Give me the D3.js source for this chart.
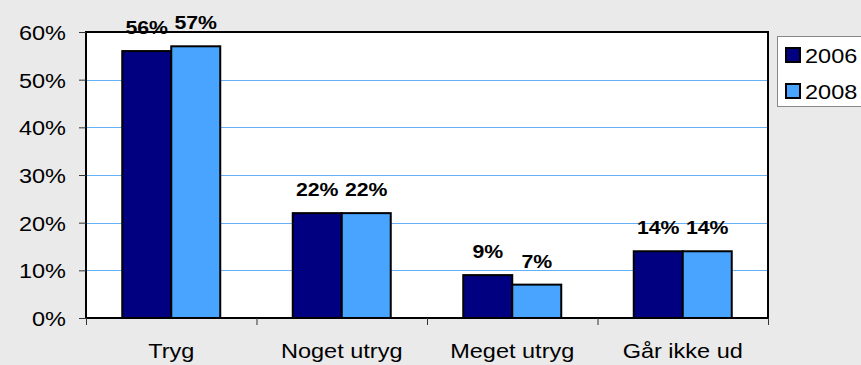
<!DOCTYPE html>
<html>
<head>
<meta charset="utf-8">
<script src="https://cdn.jsdelivr.net/npm/d3@7"></script>
<style>
  html, body { margin: 0; padding: 0; background: #eaeaea; }
  svg { display: block; font-family: Arial, "Liberation Sans", sans-serif; }
</style>
</head>
<body>
<svg id="chart" width="861" height="365"></svg>
<script>
// Answer categories and shares per survey year
const categories = ["Tryg", "Noget utryg", "Meget utryg", "Går ikke ud"];
const seriesNames = ["2006", "2008"];
const values2006 = [56, 22, 9, 14];
const values2008 = [57, 22, 7, 14];
const yTicks = [0, 10, 20, 30, 40, 50, 60];

const seriesColors = ["#000080", "#48a4ff"];
const series = [values2006, values2008];

const plot = { left: 86, right: 768, top: 32, bottom: 318 };
const stretch = 1.12; // slightly wide glyphs

const svg = d3.select("#chart");

const x = d3.scaleBand()
  .domain(categories)
  .range([plot.left, plot.right])
  .paddingInner(0)
  .paddingOuter(0);

const xInner = d3.scaleBand()
  .domain(seriesNames)
  .range([0, x.bandwidth()])
  .paddingInner(0)
  .paddingOuter(0.74);

const y = d3.scaleLinear()
  .domain([0, 60])
  .range([plot.bottom, plot.top]);

// place a horizontally stretched text at (px, py)
function wideText(sel, px, py) {
  return sel.attr("x", 0).attr("y", 0)
    .attr("transform", (d, i) => `translate(${px(d, i)},${py(d, i)}) scale(${stretch},1)`);
}

// Plot area background
svg.append("rect")
  .attr("x", plot.left).attr("y", plot.top)
  .attr("width", plot.right - plot.left)
  .attr("height", plot.bottom - plot.top)
  .attr("fill", "#ffffff");

// Gridlines
svg.append("g")
  .selectAll("line")
  .data(yTicks.filter(d => d > 0 && d < 60))
  .join("line")
  .attr("x1", plot.left).attr("x2", plot.right)
  .attr("y1", d => Math.round(y(d)) + 0.5)
  .attr("y2", d => Math.round(y(d)) + 0.5)
  .attr("stroke", "#66b0f5")
  .attr("stroke-width", 1);

// Bars
const groups = svg.append("g")
  .selectAll("g")
  .data(categories)
  .join("g")
  .attr("transform", d => `translate(${x(d)},0)`);

const cellData = (c, i) => series.map((s, k) => ({ key: seriesNames[k], value: s[i], k }));

groups.selectAll("rect")
  .data(cellData)
  .join("rect")
  .attr("x", d => xInner(d.key))
  .attr("y", d => y(d.value))
  .attr("width", xInner.bandwidth())
  .attr("height", d => plot.bottom - y(d.value))
  .attr("fill", d => seriesColors[d.k])
  .attr("stroke", "#000")
  .attr("stroke-width", 2);

// Value labels
groups.selectAll("text")
  .data(cellData)
  .join("text")
  .call(wideText, d => xInner(d.key) + xInner.bandwidth() / 2, d => y(d.value) - 17)
  .attr("text-anchor", "middle")
  .attr("font-size", 19)
  .attr("font-weight", "bold")
  .attr("fill", "#000")
  .text(d => d.value + "%");

// Plot border
svg.append("rect")
  .attr("x", plot.left).attr("y", plot.top)
  .attr("width", plot.right - plot.left)
  .attr("height", plot.bottom - plot.top)
  .attr("fill", "none")
  .attr("stroke", "#000")
  .attr("stroke-width", 2);

// Y axis
const yAxis = svg.append("g")
  .attr("transform", `translate(${plot.left},0)`)
  .call(d3.axisLeft(y).tickValues(yTicks).tickFormat(d => d + "%").tickSize(7));
yAxis.select(".domain").remove();
yAxis.selectAll(".tick line").attr("stroke", "#333");
yAxis.selectAll(".tick text")
  .attr("x", 0).attr("y", 0).attr("dy", null)
  .attr("transform", `translate(-20,7.5) scale(${stretch},1)`)
  .attr("font-size", 21)
  .attr("font-family", "Arial, 'Liberation Sans', sans-serif")
  .attr("fill", "#000");

// X axis: ticks at category boundaries
const boundaries = categories.map(c => x(c)).concat([plot.right]);
svg.append("g")
  .selectAll("line")
  .data(boundaries)
  .join("line")
  .attr("x1", d => d + 0.5).attr("x2", d => d + 0.5)
  .attr("y1", plot.bottom).attr("y2", plot.bottom + 7)
  .attr("stroke", "#333");

svg.append("g")
  .selectAll("text")
  .data(categories)
  .join("text")
  .call(wideText, d => x(d) + x.bandwidth() / 2, () => 358)
  .attr("text-anchor", "middle")
  .attr("font-size", 21)
  .attr("fill", "#000")
  .text(d => d);

// Legend
const legend = svg.append("g");
legend.append("rect")
  .attr("x", 777.5).attr("y", 36.5)
  .attr("width", 100).attr("height", 70)
  .attr("fill", "#ffffff")
  .attr("stroke", "#888")
  .attr("stroke-width", 1);

const items = legend.selectAll("g.item")
  .data(seriesNames)
  .join("g")
  .attr("class", "item")
  .attr("transform", (d, i) => `translate(0,${i * 36})`);

items.append("rect")
  .attr("x", 786).attr("y", 48)
  .attr("width", 14).attr("height", 14)
  .attr("fill", (d, i) => seriesColors[i])
  .attr("stroke", "#000")
  .attr("stroke-width", 2);

items.append("text")
  .call(wideText, () => 805, () => 63)
  .attr("font-size", 21)
  .attr("fill", "#000")
  .text(d => d);
</script>
</body>
</html>
